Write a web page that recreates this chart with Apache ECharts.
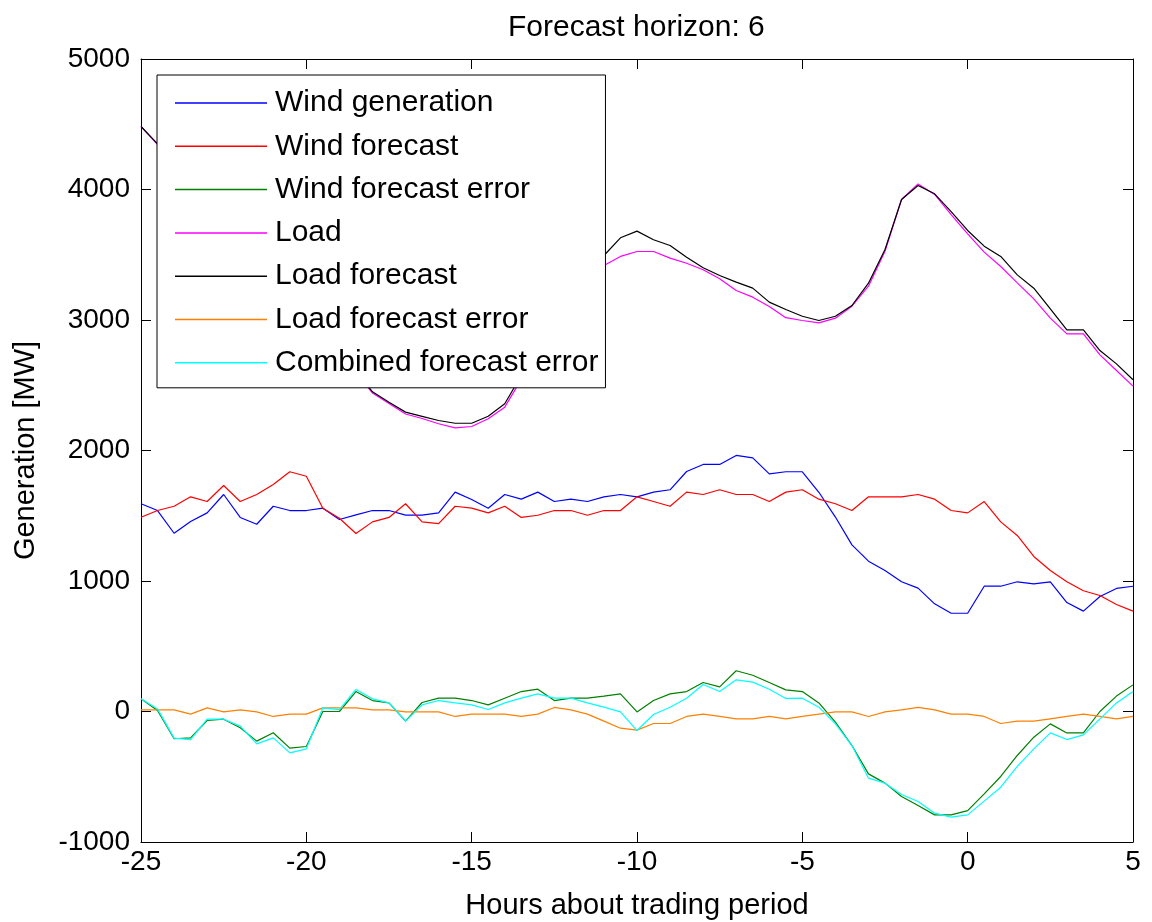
<!DOCTYPE html>
<html lang="en">
<head>
    <meta charset="utf-8"/>
    <title>Forecast horizon: 6</title>
    <script src="https://cdn.jsdelivr.net/npm/echarts@6/dist/echarts.min.js"></script>
    <style>
        html, body { margin: 0; padding: 0; background: #fff; }
        #chart { width: 1152px; height: 922px; }
    </style>
</head>
<body>
    <div id="chart"></div>
    <script>
        // half-hour steps about the trading period
        const hours = [-25, -24.5, -24, -23.5, -23, -22.5, -22, -21.5, -21, -20.5,
            -20, -19.5, -19, -18.5, -18, -17.5, -17, -16.5, -16, -15.5,
            -15, -14.5, -14, -13.5, -13, -12.5, -12, -11.5, -11, -10.5,
            -10, -9.5, -9, -8.5, -8, -7.5, -7, -6.5, -6, -5.5,
            -5, -4.5, -4, -3.5, -3, -2.5, -2, -1.5, -1, -0.5,
            0, 0.5, 1, 1.5, 2, 2.5, 3, 3.5, 4, 4.5, 5];

        const windGeneration = [1592, 1540, 1366, 1456, 1522, 1663, 1487, 1435, 1573, 1540,
            1540, 1558, 1471, 1507, 1540, 1540, 1505, 1505, 1522, 1681,
            1624, 1558, 1663, 1627, 1681, 1609, 1627, 1609, 1645, 1663,
            1645, 1681, 1699, 1839, 1893, 1893, 1962, 1944, 1821, 1837,
            1837, 1680, 1490, 1277, 1152, 1080, 994, 945, 825, 753,
            753, 960, 960, 994, 978, 994, 835, 769, 881, 943, 960];
        const windForecast = [1489, 1540, 1573, 1645, 1609, 1732, 1609, 1663, 1739, 1837,
            1803, 1558, 1481, 1364, 1453, 1487, 1592, 1453, 1440, 1573,
            1558, 1522, 1573, 1487, 1504, 1540, 1540, 1504, 1540, 1540,
            1645, 1609, 1573, 1681, 1663, 1699, 1663, 1663, 1609, 1681,
            1699, 1627, 1592, 1540, 1645, 1645, 1645, 1663, 1627, 1540,
            1522, 1609, 1453, 1349, 1188, 1080, 994, 925, 889, 820, 769];
        const windError = [97, 8, -209, -202, -69, -59, -125, -227, -163, -281,
            -268, 0, 0, 153, 84, 66, -74, 69, 102, 102,
            84, 51, 102, 153, 171, 84, 102, 102, 118, 135,
            -3, 84, 135, 153, 222, 189, 312, 278, 222, 166,
            153, 66, -82, -261, -478, -549, -651, -720, -792, -792,
            -759, -631, -498, -337, -197, -95, -164, -164, 0, 118, 204];
        const load = [4483, 4345, 4225, 4090, 3950, 3810, 3665, 3515, 3365, 3215,
            3065, 2915, 2765, 2600, 2440, 2360, 2280, 2245, 2205, 2174,
            2184, 2243, 2332, 2545, 2800, 3050, 3230, 3350, 3418, 3487,
            3525, 3525, 3474, 3435, 3385, 3316, 3226, 3175, 3104, 3018,
            2996, 2978, 3014, 3106, 3259, 3527, 3923, 4043, 3962, 3808,
            3660, 3520, 3410, 3285, 3162, 3014, 2894, 2894, 2733, 2613, 2493];
        const loadForecast = [4483, 4350, 4230, 4100, 3960, 3820, 3680, 3530, 3380, 3230,
            3080, 2930, 2780, 2610, 2450, 2370, 2294, 2262, 2230, 2209,
            2209, 2262, 2358, 2575, 2850, 3110, 3300, 3420, 3494, 3630,
            3681, 3615, 3571, 3481, 3400, 3341, 3290, 3244, 3137, 3080,
            3029, 2996, 3029, 3111, 3282, 3540, 3923, 4031, 3967, 3831,
            3686, 3566, 3487, 3346, 3244, 3086, 2925, 2925, 2766, 2664, 2542];
        const loadError = [13, 13, 13, -20, 28, -3, 13, -3, -38, -20,
            -20, 28, 28, 28, 13, 13, -3, -3, -3, -38,
            -20, -20, -20, -38, -20, 31, 13, -20, -74, -128,
            -143, -92, -92, -38, -20, -38, -56, -56, -38, -56,
            -38, -20, -3, -3, -38, -3, 13, 31, 13, -20,
            -20, -38, -92, -74, -74, -56, -38, -20, -38, -56, -38];
        const combinedError = [97, 20, -204, -215, -59, -59, -112, -248, -202, -317,
            -286, 28, 15, 169, 97, 66, -74, 51, 84, 66,
            51, 15, 66, 102, 135, 102, 102, 66, 33, -3,
            -146, -23, 33, 102, 207, 153, 243, 225, 171, 100,
            102, 33, -95, -261, -511, -549, -636, -690, -779, -810,
            -792, -687, -580, -421, -286, -164, -215, -179, -56, 66, 153];

        const seriesDefs = [
            ['Wind generation', windGeneration, '#0000ff'],
            ['Wind forecast', windForecast, '#ff0000'],
            ['Wind forecast error', windError, '#008000'],
            ['Load', load, '#ff00ff'],
            ['Load forecast', loadForecast, '#000000'],
            ['Load forecast error', loadError, '#ff8000'],
            ['Combined forecast error', combinedError, '#00ffff']
        ];

        const font = "'Liberation Sans', Arial, sans-serif";
        const chart = echarts.init(document.getElementById('chart'), null, {renderer: 'canvas'});

        const frameAxis = {
            axisLine: {show: true, onZero: false, lineStyle: {color: '#000', width: 1}},
            axisTick: {show: true, inside: true, length: 10, lineStyle: {color: '#000'}},
            splitLine: {show: false}
        };

        const option = {
            animation: false,
            backgroundColor: '#fff',
            title: {
                text: 'Forecast horizon: 6',
                left: 503,
                top: 8,
                textStyle: {fontFamily: font, fontSize: 30, fontWeight: 'normal', color: '#000'}
            },
            legend: {
                orient: 'vertical',
                left: 157,
                top: 75,
                padding: [13, 7, 10, 18],
                itemWidth: 92,
                itemHeight: 1.5,
                itemGap: 13.3,
                icon: 'rect',
                backgroundColor: '#fff',
                borderColor: '#000',
                borderWidth: 1,
                textStyle: {fontFamily: font, fontSize: 30, lineHeight: 30, color: '#000', padding: [0, 0, 0, 3]},
                data: seriesDefs.map(d => d[0])
            },
            grid: {left: 141, right: 19, top: 59, bottom: 80, containLabel: false, outerBoundsMode: 'none'},
            xAxis: [
                Object.assign({
                    type: 'value', min: -25, max: 5, interval: 5, position: 'bottom',
                    name: 'Hours about trading period', nameLocation: 'middle', nameGap: 49,
                    nameTextStyle: {fontFamily: font, fontSize: 29, color: '#000'},
                    axisLabel: {fontFamily: font, fontSize: 28, color: '#000', margin: 6}
                }, frameAxis),
                Object.assign({
                    type: 'value', min: -25, max: 5, interval: 5, position: 'top',
                    axisLabel: {show: false}
                }, frameAxis)
            ],
            yAxis: [
                Object.assign({
                    type: 'value', min: -1000, max: 5000, interval: 1000, position: 'left',
                    name: 'Generation [MW]', nameLocation: 'middle', nameGap: 101,
                    nameTextStyle: {fontFamily: font, fontSize: 29, color: '#000'},
                    axisLabel: {fontFamily: font, fontSize: 28, color: '#000', margin: 11,
                        formatter: v => String(v)}
                }, frameAxis),
                Object.assign({
                    type: 'value', min: -1000, max: 5000, interval: 1000, position: 'right',
                    axisLabel: {show: false}
                }, frameAxis)
            ],
            series: seriesDefs.map(function (d) {
                return {
                    name: d[0],
                    type: 'line',
                    xAxisIndex: 0,
                    yAxisIndex: 0,
                    symbol: 'none',
                    color: d[2],
                    lineStyle: {color: d[2], width: 1.2},
                    data: hours.map((h, i) => [h, d[1][i]])
                };
            })
        };
        chart.setOption(option);
    </script>
</body>
</html>
